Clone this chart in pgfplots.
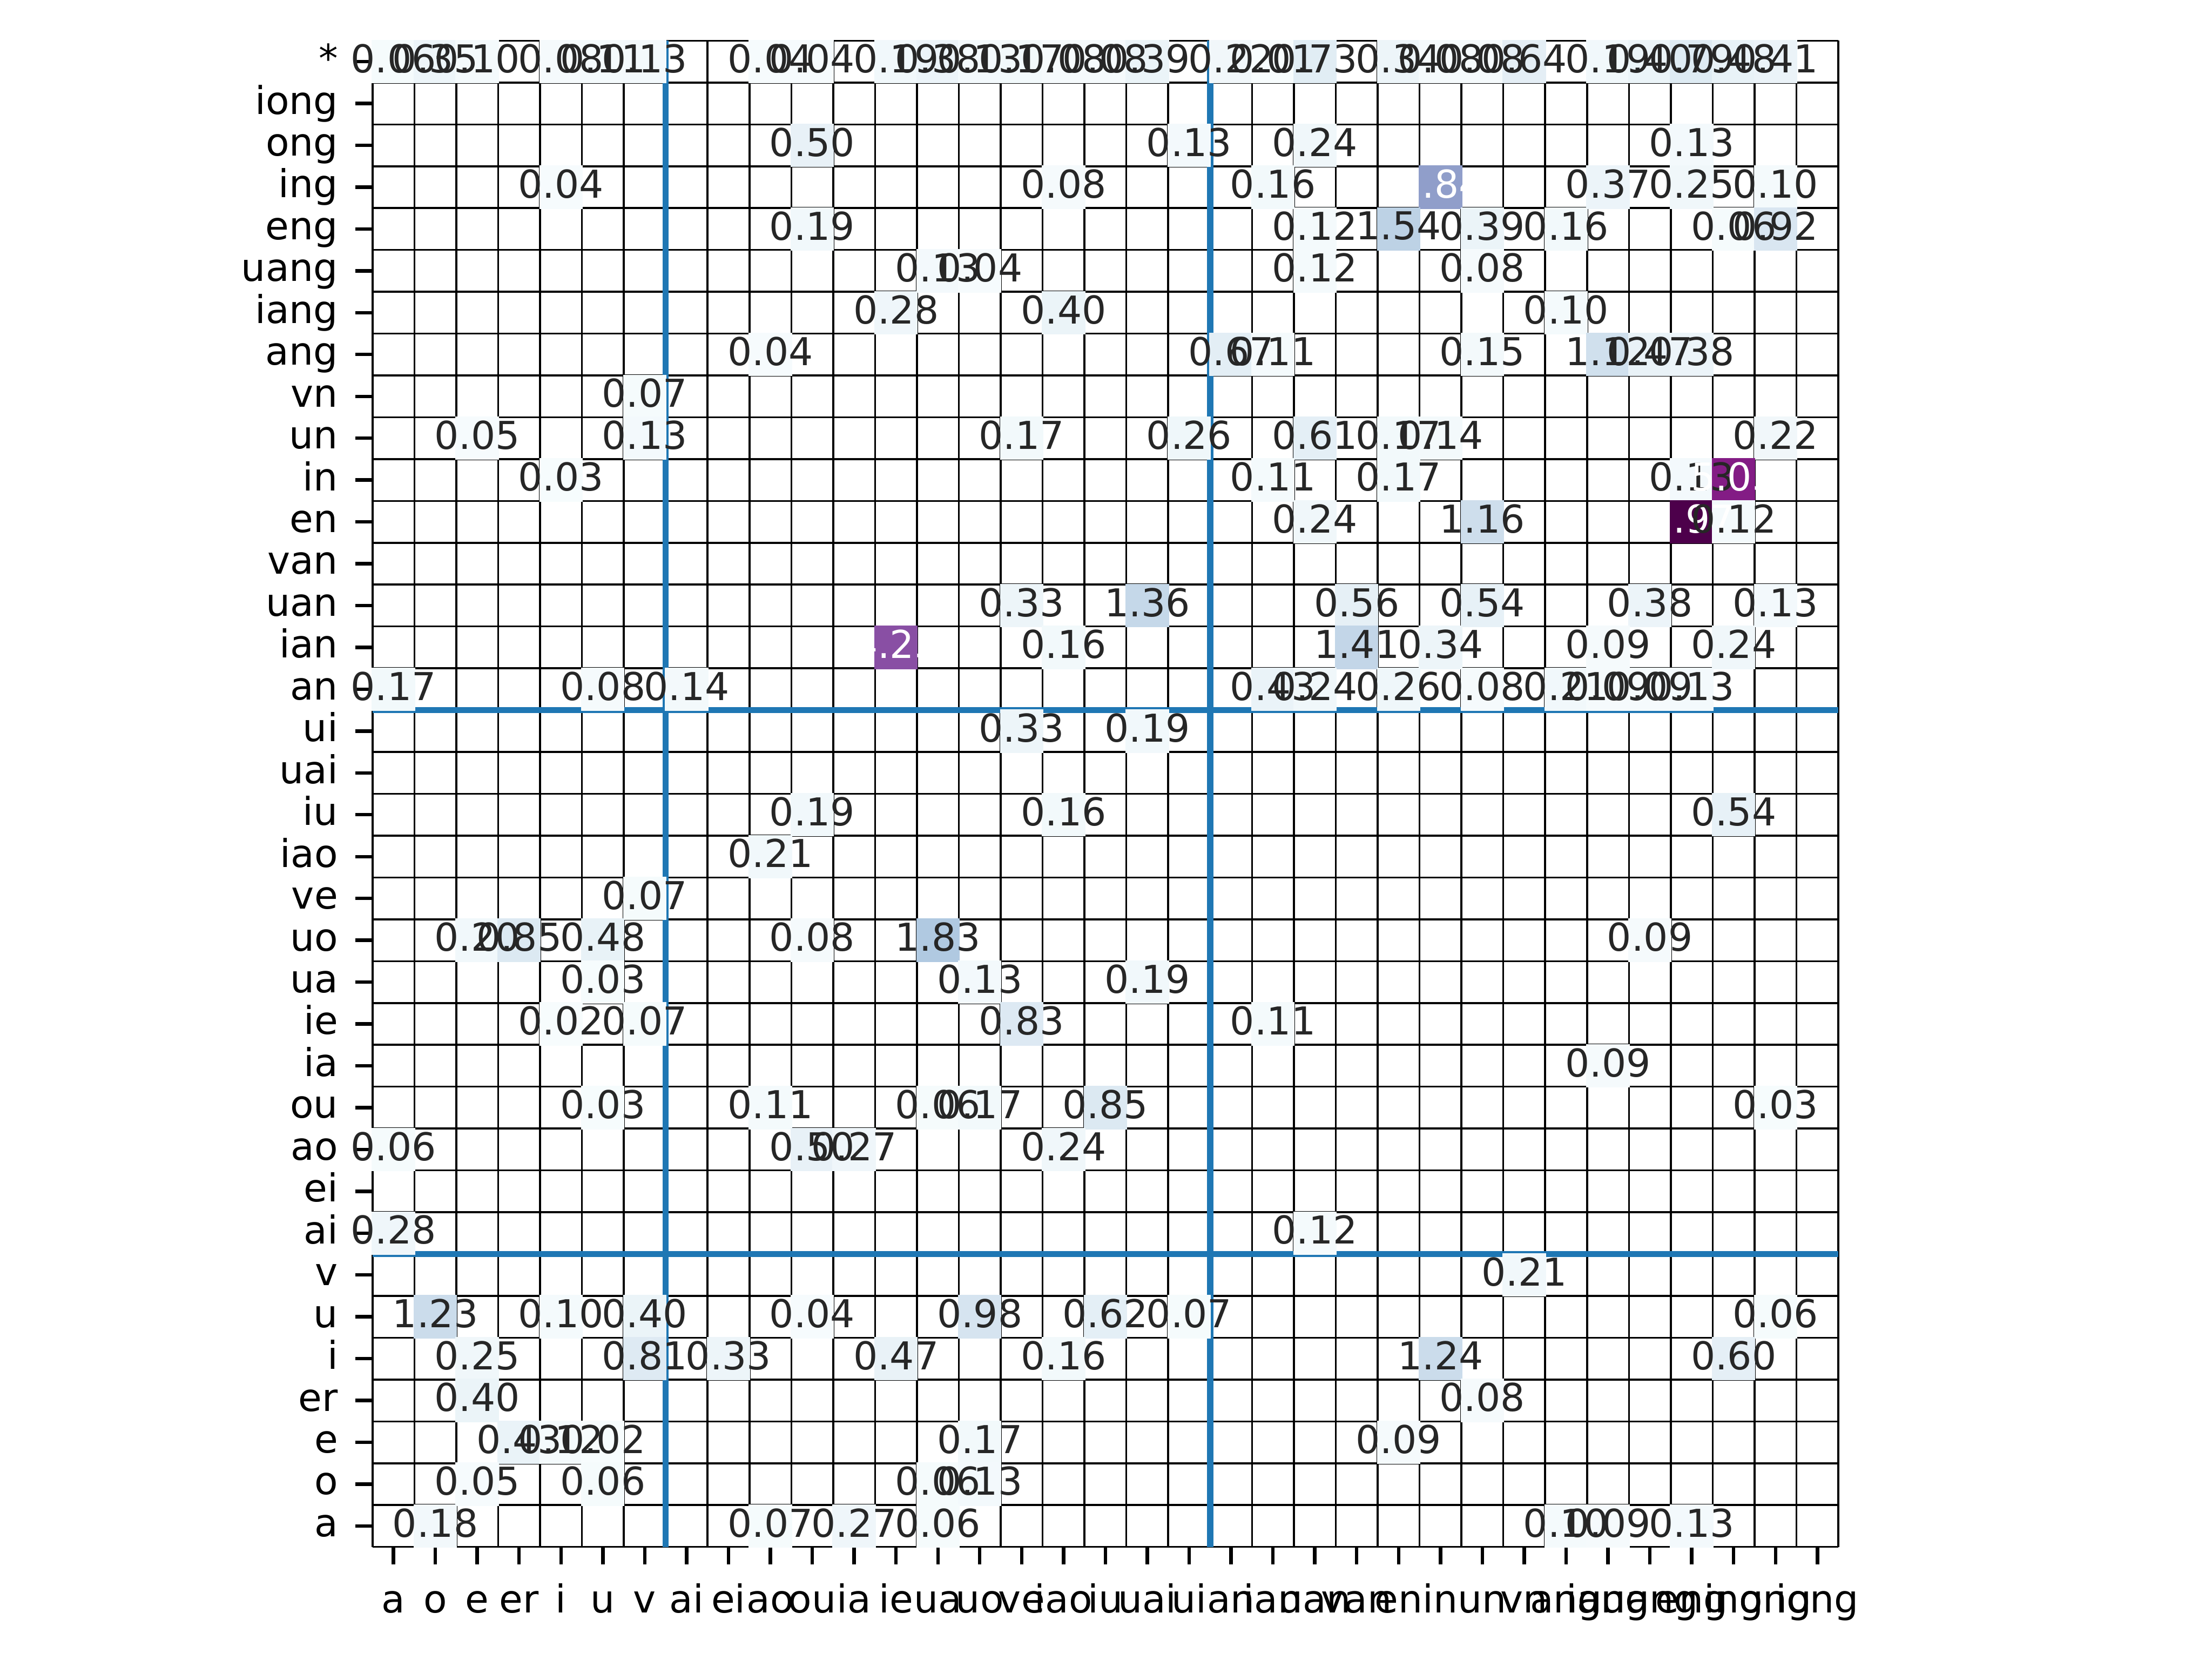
\documentclass[border=0pt]{standalone}
\usepackage{fontspec}
\setmainfont{DejaVu Sans}
\usepackage{pgfplots}
\usepackage{pgfplotstable}
\pgfplotsset{compat=1.18}
\definecolor{tg}{HTML}{262626}
\definecolor{mplblue}{HTML}{1F77B4}
\pgfplotstableread{
x y v k
0 35 0.06 0
1 35 0.35 0
2 35 0.10 0
4 35 0.08 0
5 35 0.11 0
6 35 0.13 0
9 35 0.04 0
10 35 0.04 0
12 35 0.19 0
13 35 0.38 0
14 35 0.13 0
15 35 0.17 0
16 35 0.08 0
17 35 0.08 0
18 35 0.39 0
20 35 0.22 0
21 35 0.01 0
22 35 0.73 0
24 35 0.34 0
25 35 0.08 0
26 35 0.08 0
27 35 0.64 0
29 35 0.19 0
30 35 0.40 0
31 35 0.79 0
32 35 0.48 0
33 35 0.41 0
10 33 0.50 0
19 33 0.13 0
22 33 0.24 0
31 33 0.13 0
4 32 0.04 0
16 32 0.08 0
21 32 0.16 0
25 32 2.84 1
29 32 0.37 0
31 32 0.25 0
33 32 0.10 0
10 31 0.19 0
22 31 0.12 0
24 31 1.54 0
26 31 0.39 0
28 31 0.16 0
32 31 0.06 0
33 31 0.92 0
13 30 0.13 0
14 30 0.04 0
22 30 0.12 0
26 30 0.08 0
12 29 0.28 0
16 29 0.40 0
28 29 0.10 0
9 28 0.04 0
20 28 0.67 0
21 28 0.11 0
26 28 0.15 0
29 28 1.12 0
30 28 0.47 0
31 28 0.38 0
6 27 0.07 0
2 26 0.05 0
6 26 0.13 0
15 26 0.17 0
19 26 0.26 0
22 26 0.61 0
24 26 0.17 0
25 26 0.14 0
33 26 0.22 0
4 25 0.03 0
21 25 0.11 0
24 25 0.17 0
31 25 0.13 0
32 25 5.03 1
22 24 0.24 0
26 24 1.16 0
31 24 5.97 1
32 24 0.12 2
15 22 0.33 0
18 22 1.36 0
23 22 0.56 0
26 22 0.54 0
30 22 0.38 0
33 22 0.13 0
12 21 4.23 1
16 21 0.16 0
23 21 1.41 0
25 21 0.34 0
29 21 0.09 0
32 21 0.24 0
0 20 0.17 0
5 20 0.08 0
7 20 0.14 0
21 20 0.43 0
22 20 0.24 0
24 20 0.26 0
26 20 0.08 0
28 20 0.21 0
29 20 0.09 0
30 20 0.09 0
31 20 0.13 0
15 19 0.33 0
18 19 0.19 0
10 17 0.19 0
16 17 0.16 0
32 17 0.54 0
9 16 0.21 0
6 15 0.07 0
2 14 0.20 0
3 14 0.85 0
5 14 0.48 0
10 14 0.08 0
13 14 1.83 0
30 14 0.09 0
5 13 0.03 0
14 13 0.13 0
18 13 0.19 0
4 12 0.02 0
6 12 0.07 0
15 12 0.83 0
21 12 0.11 0
29 11 0.09 0
5 10 0.03 0
9 10 0.11 0
13 10 0.06 0
14 10 0.17 0
17 10 0.85 0
33 10 0.03 0
0 9 0.06 0
10 9 0.50 0
11 9 0.27 0
16 9 0.24 0
0 7 0.28 0
22 7 0.12 0
27 6 0.21 0
1 5 1.23 0
4 5 0.10 0
6 5 0.40 0
10 5 0.04 0
14 5 0.98 0
17 5 0.62 0
19 5 0.07 0
33 5 0.06 0
2 4 0.25 0
6 4 0.81 0
8 4 0.33 0
12 4 0.47 0
16 4 0.16 0
25 4 1.24 0
32 4 0.60 0
2 3 0.40 0
26 3 0.08 0
3 2 0.43 0
4 2 0.12 0
5 2 0.02 0
14 2 0.17 0
24 2 0.09 0
2 1 0.05 0
5 1 0.06 0
13 1 0.06 0
14 1 0.13 0
1 0 0.18 0
9 0 0.07 0
11 0 0.27 0
13 0 0.06 0
28 0 0.10 0
29 0 0.09 0
31 0 0.13 0
}\cells
\pgfplotsset{
  annot/.style={draw=none, mark=none, point meta=\thisrow{v},
    unbounded coords=discard,
    x filter/.expression={\thisrow{k}==#1 ? x : nan},
    nodes near coords={\pgfmathprintnumber[fixed,fixed zerofill,precision=2]{\pgfplotspointmeta}},
    every node near coord/.append style={anchor=center, inner sep=0pt, yshift=0.8pt, font=\fontsize{10pt}{12pt}\selectfont}},
}
\begin{document}
\begin{tikzpicture}
\path[use as bounding box] (0,0) rectangle (576pt,432pt);
\begin{axis}[
  at={(97pt,29.3pt)}, anchor=south west,
  scale only axis, width=381.7pt, height=392.1pt,
  xmin=-0.5, xmax=34.5, ymin=-0.5, ymax=35.5,
  clip=false,
  axis line style={draw=none},
  xtick={0,...,34}, ytick={0,...,35},
  xticklabels={a,o,e,er,i,u,v,ai,ei,ao,ou,ia,ie,ua,uo,ve,iao,iu,uai,ui,an,ian,uan,van,en,in,un,vn,ang,iang,uang,eng,ing,ong,iong},
  yticklabels={a,o,e,er,i,u,v,ai,ei,ao,ou,ia,ie,ua,uo,ve,iao,iu,uai,ui,an,ian,uan,van,en,in,un,vn,ang,iang,uang,eng,ing,ong,iong,*},
  tick align=outside, xtick pos=left, ytick pos=left,
  major tick length=4.5pt,
  tick style={black, line width=0.9pt},
  xticklabel style={anchor=base, yshift=-12.7pt, inner sep=0pt, font=\fontsize{10pt}{12pt}\selectfont, text=black},
  yticklabel style={anchor=mid east, xshift=-4.3pt, inner sep=0pt, font=\fontsize{10pt}{12pt}\selectfont, text=black},
  colormap={bupu}{rgb255=(247,252,253) rgb255=(224,236,244) rgb255=(191,211,230) rgb255=(158,188,218) rgb255=(140,150,198) rgb255=(140,107,177) rgb255=(136,65,157) rgb255=(129,15,124) rgb255=(77,0,75)},
  point meta min=0.01, point meta max=5.97,
  /pgf/number format/assume math mode=true,
]
\addplot[scatter, only marks, mark=square*, mark size=5.45pt,
  scatter/use mapped color={draw=mapped color, fill=mapped color},
  point meta=\thisrow{v}] table[x=x,y=y]{\cells};
\pgfplotsinvokeforeach{-0.5,0.5,...,34.5}{
  \draw[black, line width=0.5pt] (axis cs:#1,-0.5) -- (axis cs:#1,35.5);
}
\pgfplotsinvokeforeach{-0.5,0.5,...,35.5}{
  \draw[black, line width=0.5pt] (axis cs:-0.5,#1) -- (axis cs:34.5,#1);
}
\addplot[annot=0, nodes near coords style={text=tg}] table[x=x,y=y]{\cells};
\addplot[annot=1, nodes near coords style={text=white}] table[x=x,y=y]{\cells};
\addplot[annot=2, nodes near coords style={text=tg}] table[x=x,y=y]{\cells};
\draw[mplblue, line width=1.6pt] (axis cs:6.5,-0.5) -- (axis cs:6.5,35.5);
\draw[mplblue, line width=1.6pt] (axis cs:19.5,-0.5) -- (axis cs:19.5,35.5);
\draw[mplblue, line width=1.6pt] (axis cs:-0.5,6.5) -- (axis cs:34.5,6.5);
\draw[mplblue, line width=1.6pt] (axis cs:-0.5,19.5) -- (axis cs:34.5,19.5);
\end{axis}
\end{tikzpicture}
\end{document}
